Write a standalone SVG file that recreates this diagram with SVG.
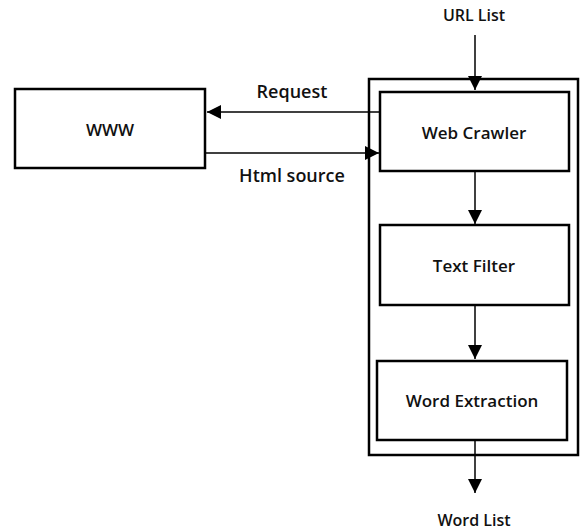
<svg xmlns="http://www.w3.org/2000/svg" width="580" height="530" viewBox="0 0 580 530">
<style>
.box{fill:#fff;stroke:#000;stroke-width:2.5}
.outer{fill:none;stroke:#000;stroke-width:2.5}
.ln{stroke:#000;stroke-width:1.5;fill:none}
text{font-family:"Open Sans","Noto Sans",sans-serif;font-weight:600;font-size:17px;fill:#111;text-anchor:middle}
.lbl{font-size:18px}
.io{font-size:16px}
</style>
<defs>
<marker id="ah" viewBox="0 0 10 10" refX="10" refY="5" markerWidth="14" markerHeight="14" markerUnits="userSpaceOnUse" orient="auto">
<path d="M0,0 L10,5 L0,10 Z" fill="#000"/>
</marker>
</defs>
<rect class="outer" x="369" y="79" width="209" height="376"/>
<g id="www"><rect class="box" x="15" y="89" width="190" height="79"/><text x="110" y="136">WWW</text></g>
<g id="webcrawler"><rect class="box" x="380" y="92" width="189" height="79"/><text x="474" y="139">Web Crawler</text></g>
<g id="textfilter"><rect class="box" x="380" y="225" width="189" height="80"/><text x="474" y="272">Text Filter</text></g>
<g id="wordextraction"><rect class="box" x="377" y="361" width="190" height="79"/><text x="472" y="407">Word Extraction</text></g>
<g id="connectors">
<line class="ln" x1="475" y1="35" x2="475" y2="90" marker-end="url(#ah)"/>
<line class="ln" x1="380" y1="112" x2="207" y2="112" marker-end="url(#ah)"/>
<line class="ln" x1="205" y1="153" x2="379" y2="153" marker-end="url(#ah)"/>
<line class="ln" x1="475" y1="171" x2="475" y2="224" marker-end="url(#ah)"/>
<line class="ln" x1="475" y1="305" x2="475" y2="359" marker-end="url(#ah)"/>
<line class="ln" x1="475" y1="440" x2="475" y2="493" marker-end="url(#ah)"/>
</g>
<text class="io" x="474" y="21">URL List</text>
<text class="lbl" x="292" y="98">Request</text>
<text class="lbl" x="292" y="182">Html source</text>
<text class="io" x="474" y="526">Word List</text>
</svg>
